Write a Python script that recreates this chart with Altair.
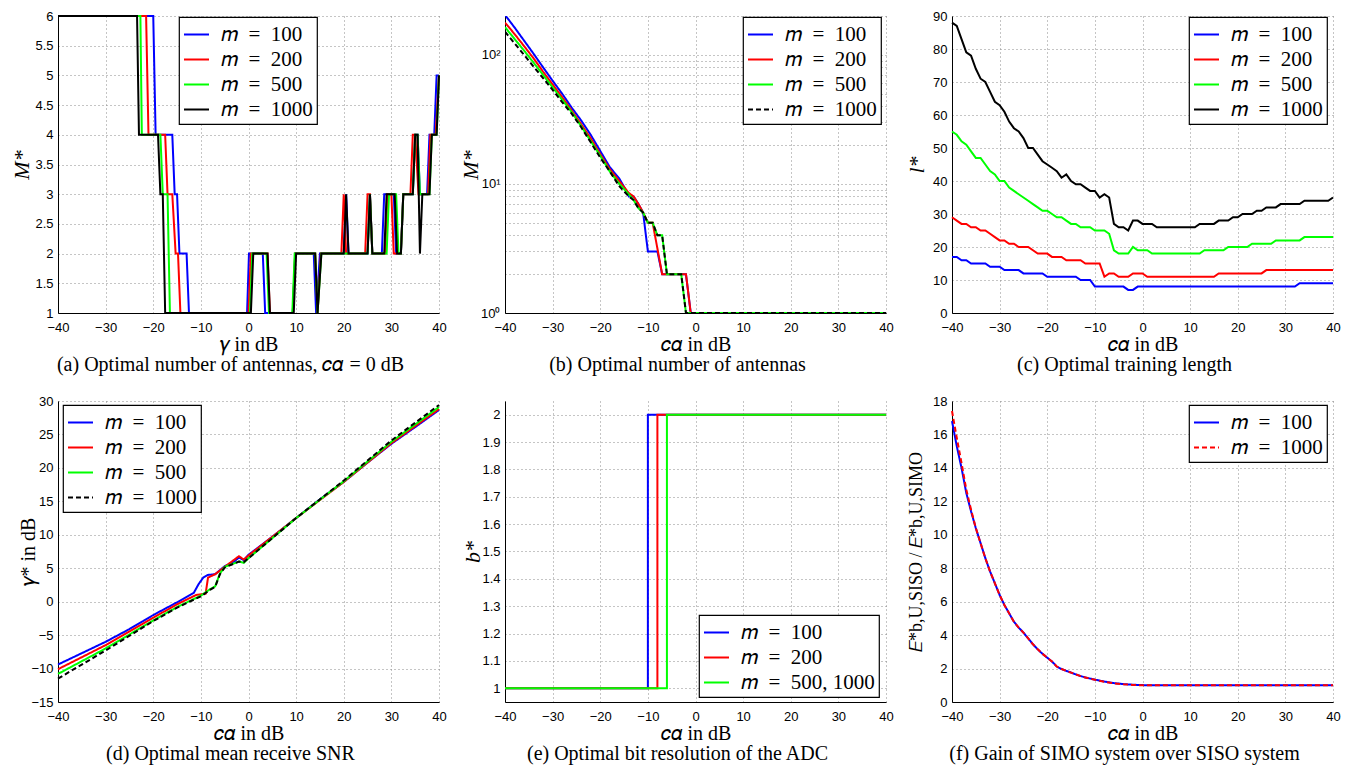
import altair as alt
import pandas as pd

SERIF = "Liberation Serif"
SANS = "Liberation Sans"
BLUE, RED, GREEN, BLACK = "#0000ff", "#ff0000", "#00ff00", "#000000"

L100 = "𝑚\u2002=\u2002100"
L200 = "𝑚\u2002=\u2002200"
L500 = "𝑚\u2002=\u2002500"
L1000 = "𝑚\u2002=\u20021000"
L5001000 = "𝑚\u2002=\u2002500, 1000"

X_TICKS = [-40, -30, -20, -10, 0, 10, 20, 30, 40]

# ---------------- (a) optimal number of antennas vs gamma ----------------
A_X_100 = [-40, -20, -19.5, -16, -15.5, -15, -14.5, -13, -12.5, -0.3, 0.1, 3, 3.5, 9.3, 9.8, 13.7, 14.2, 15, 20, 20.5, 21, 25, 25.5, 26, 28, 28.5, 30.5, 31, 32, 32.5, 34.5, 35, 35.5, 36, 37.5, 38, 39, 39.5, 40]
A_Y_100 = [6, 6, 4, 4, 3, 3, 2, 2, 1, 1, 2, 2, 1, 1, 2, 2, 1, 2, 2, 3, 2, 2, 3, 2, 2, 3, 3, 2, 2, 3, 3, 4, 4, 3, 3, 4, 4, 5, 5]
A_X_200 = [-40, -21.5, -21, -17.5, -17, -16, -15.3, -14.8, -14.3, 0, 0.5, 4, 4.5, 9.3, 9.8, 14, 14.5, 15.2, 19.5, 20, 20.5, 24.5, 25, 25.5, 26, 28.7, 29.2, 30, 30.5, 32, 32.5, 34, 34.5, 35, 35.7, 37.7, 38.2, 39.3, 40]
A_Y_200 = [6, 6, 4, 4, 3, 3, 2, 2, 1, 1, 2, 2, 1, 1, 2, 2, 1, 2, 2, 3, 2, 2, 3, 3, 2, 2, 3, 3, 2, 2, 3, 3, 4, 4, 3, 3, 4, 4, 5]
A_X_500 = [-40, -22.7, -22.4, -18.5, -18, -17, -16.5, 0.3, 0.8, 3.8, 4.3, 9.2, 9.7, 14, 14.5, 15.3, 25, 25.5, 26, 29, 29.5, 31, 31.5, 32, 32.5, 34.5, 35, 35.5, 36, 38, 38.5, 39.5, 40]
A_Y_500 = [6, 6, 4, 4, 3, 3, 1, 1, 2, 2, 1, 1, 2, 2, 1, 2, 2, 3, 2, 2, 3, 3, 2, 2, 3, 3, 4, 4, 3, 3, 4, 4, 5]
A_X_1000 = [-40, -23.4, -23, -19, -18.5, -18, -17.5, 0.5, 1, 4, 4.5, 9.5, 10, 14, 14.5, 15.3, 20, 20.5, 21, 25, 25.5, 26, 28.5, 29, 30.7, 31.2, 32, 32.5, 34.5, 35, 35.5, 36, 36.5, 38, 38.5, 39.5, 40]
A_Y_1000 = [6, 6, 4, 4, 3, 3, 1, 1, 2, 2, 1, 1, 2, 2, 1, 2, 2, 3, 2, 2, 3, 2, 2, 3, 3, 2, 2, 3, 3, 4, 4, 2, 3, 3, 4, 4, 5]

# ---------------- (b) optimal number of antennas vs c*alpha (log) ----------------
B_X_100 = [-40, -38, -36, -34, -32, -30, -28, -26, -24, -22, -20, -18, -16, -15, -14, -13, -12, -11, -10, -8, -7, -2, -1, 40]
B_Y_100 = [204, 163, 129, 102, 80, 63, 50, 39, 31, 24, 18, 13.5, 11, 9.5, 8, 8, 7, 6, 3, 3, 2, 2, 1, 1]
B_X_200 = [-40, -38, -36, -34, -32, -30, -28, -26, -24, -22, -20, -18, -16, -14, -13, -12, -11, -10, -9, -7, -2, -1, 40]
B_Y_200 = [178, 145, 117, 94, 74, 59, 47, 37, 29, 22.5, 17, 13, 10.5, 8.5, 8, 7, 6, 5, 5, 2, 2, 1, 1]
B_X_500 = [-40, -38, -36, -34, -32, -30, -28, -26, -24, -22, -20, -18, -16, -14, -13, -12, -11, -10, -9, -8, -7, -6, -3, -2, 40]
B_Y_500 = [164, 133, 108, 87, 70, 56, 45, 36, 28, 21.5, 16.5, 12.5, 10, 8.3, 7.5, 6.5, 6, 5, 5, 4, 4, 2, 2, 1, 1]
B_X_1000 = [-40, -38, -36, -34, -32, -30, -28, -26, -24, -22, -20, -18, -16, -14, -13, -12, -11, -10, -9, -8, -7, -6, -3, -2, 40]
B_Y_1000 = [151, 123, 100, 81, 66, 53.5, 43, 35, 27.5, 21, 16, 12.5, 9.6, 8, 7.5, 6.5, 6, 5, 5, 4, 4, 2, 2, 1, 1]

# ---------------- (c) optimal training length ----------------
C_X = list(range(-40, 41))
C_Y_100 = [17, 17, 16, 16, 15, 15, 15, 15, 14, 14,
           14, 13, 13, 13, 13, 12, 12, 12, 12, 12,
           11, 11, 11, 11, 11, 11, 11, 10, 10, 10,
           8, 8, 8, 8, 8, 8, 8, 7, 7, 8,
           8, 8, 8, 8, 8, 8, 8, 8, 8, 8,
           8, 8, 8, 8, 8, 8, 8, 8, 8, 8,
           8, 8, 8, 8, 8, 8, 8, 8, 8, 8,
           8, 8, 8, 9, 9, 9, 9, 9, 9, 9,
           9]
C_Y_200 = [29, 28, 27, 27, 26, 26, 25, 25, 24, 23,
           22, 22, 21, 21, 20, 20, 20, 19, 18, 18,
           18, 17, 17, 17, 16, 16, 16, 16, 15, 15,
           15, 15, 11, 12, 12, 11, 11, 11, 12, 12,
           12, 11, 11, 11, 11, 11, 11, 11, 11, 11,
           11, 11, 11, 11, 11, 11, 12, 12, 12, 12,
           12, 12, 12, 12, 12, 12, 13, 13, 13, 13,
           13, 13, 13, 13, 13, 13, 13, 13, 13, 13,
           13]
C_Y_500 = [55, 54, 52, 51, 49, 47, 47, 45, 43, 42,
           40, 40, 38, 37, 36, 35, 34, 33, 32, 31,
           31, 30, 29, 29, 28, 27, 27, 26, 26, 26,
           25, 25, 25, 24, 19, 18, 18, 18, 20, 19,
           19, 19, 18, 18, 18, 18, 18, 18, 18, 18,
           18, 18, 18, 19, 19, 19, 19, 19, 20, 20,
           20, 20, 20, 21, 21, 21, 21, 21, 22, 22,
           22, 22, 22, 22, 23, 23, 23, 23, 23, 23,
           23]
C_Y_1000 = [88, 87, 83, 79, 78, 74, 71, 70, 67, 64,
            63, 61, 58, 56, 55, 53, 50, 50, 48, 46,
            45, 44, 43, 41, 42, 40, 39, 39, 38, 37,
            37, 35, 36, 35, 27, 26, 26, 25, 28, 28,
            27, 27, 27, 26, 26, 26, 26, 26, 26, 26,
            26, 26, 27, 27, 27, 27, 28, 28, 28, 29,
            29, 30, 30, 30, 31, 31, 32, 32, 32, 33,
            33, 33, 33, 33, 34, 34, 34, 34, 34, 34,
            35]

# ---------------- (d) optimal mean receive SNR ----------------
D_X_100 = [-40, -35, -30, -25, -20, -15, -11.5, -10.5, -9.5, -8.5, -7, -5, -3, -2, -1, 0, 5, 10, 15, 20, 25, 30, 35, 40]
D_Y_100 = [-9.4, -7.7, -6.0, -4.1, -2.0, -0.1, 1.3, 2.6, 3.6, 4.0, 4.1, 5.3, 6.0, 6.6, 6.2, 7.0, 9.7, 12.5, 15.3, 17.9, 20.8, 23.6, 26.1, 28.65]
D_X_200 = [-40, -30, -20, -15, -11, -9, -8.5, -7, -5, -2, -1, 0, 10, 20, 30, 40]
D_Y_200 = [-10.1, -6.5, -2.4, -0.4, 1.0, 1.2, 3.6, 4.1, 5.2, 6.8, 6.3, 6.9, 12.5, 17.9, 23.7, 28.8]
D_X_500 = [-40, -30, -20, -15, -10, -8, -7, -6, -5, -2, -1, 0, 10, 20, 30, 40]
D_Y_500 = [-10.8, -7.0, -2.8, -0.8, 0.9, 1.9, 2.3, 4.2, 5.2, 6.0, 5.8, 6.5, 12.5, 18.0, 23.9, 29.1]
D_X_1000 = [-40, -30, -20, -15, -10, -8, -7, -6, -5, -2, -1, 0, 10, 20, 30, 40]
D_Y_1000 = [-11.5, -7.3, -2.9, -0.9, 0.8, 1.8, 2.2, 4.1, 5.1, 6.0, 5.9, 6.5, 12.5, 18.1, 24.1, 29.4]

# ---------------- (e) optimal bit resolution ----------------
E_X_100 = [-40, -10, -10, 40]
E_Y_100 = [1, 1, 2, 2]
E_X_200 = [-40, -8, -8, 40]
E_Y_200 = [1, 1, 2, 2]
E_X_500 = [-40, -6, -6, 40]
E_Y_500 = [1, 1, 2, 2]

# ---------------- (f) gain of SIMO over SISO ----------------
F_X = [-40, -39, -38, -37, -36, -35, -34, -33, -32, -31, -30, -29, -28, -27, -26, -25,
       -24, -23, -22, -21, -20, -19, -18, -17, -16, -15, -14, -13, -12, -11, -10,
       -8, -6, -4, -2, 0, 2, 40]
F_Y_100 = [16.8, 15.3, 14.0, 12.5, 11.4, 10.4, 9.5, 8.6, 7.8, 7.1, 6.4, 5.8, 5.3, 4.8, 4.45, 4.15,
           3.8, 3.45, 3.15, 2.88, 2.65, 2.42, 2.12, 1.97, 1.86, 1.76, 1.65, 1.55, 1.47, 1.4, 1.34,
           1.22, 1.13, 1.07, 1.03, 1.01, 1.0, 1.0]
F_Y_1000 = [17.4, 15.8, 14.3, 12.7, 11.5, 10.4, 9.5, 8.6, 7.8, 7.1, 6.4, 5.8, 5.3, 4.8, 4.45, 4.15,
            3.8, 3.45, 3.15, 2.88, 2.65, 2.42, 2.12, 1.97, 1.86, 1.76, 1.65, 1.55, 1.47, 1.4, 1.33,
            1.21, 1.12, 1.06, 1.02, 1.0, 1.0, 1.0]

W = 381
H_TOP, H_BOT = 297, 301


def build_df(names, xs_list, ys_list):
    rows = []
    for name, xs, ys in zip(names, xs_list, ys_list):
        for i, (x, y) in enumerate(zip(xs, ys)):
            rows.append({"x": x, "y": y, "s": name, "i": i})
    return pd.DataFrame(rows)


def panel(names, xs_list, ys_list, colors, y_scale, y_values, y_title, y_title_x,
          x_title, caption, leg_x, leg_y, h, dashes=None, y_format=".6~g",
          y_label_expr=None, y_title_size=20, clip=False, y_title_italic=False):
    df = build_df(names, xs_list, ys_list)
    leg = alt.Legend(orient="none", legendX=leg_x, legendY=leg_y)
    y_axis_kw = dict(values=y_values, title=y_title, titleAngle=270, titleX=y_title_x,
                     titleY=h / 2, titleAlign="center", titleBaseline="middle",
                     titleFontSize=y_title_size, labelFlush=False, labelPadding=5)
    if y_title_italic:
        y_axis_kw["titleFontStyle"] = "italic"
    if y_label_expr:
        y_axis_kw["labelExpr"] = y_label_expr
    else:
        y_axis_kw["format"] = y_format
    enc = dict(
        x=alt.X("x:Q", scale=alt.Scale(domain=[-40, 40], nice=False, zero=False),
                axis=alt.Axis(values=X_TICKS, title=x_title, titleX=W / 2, titleY=31,
                              titleAlign="center", titleBaseline="middle", labelFlush=False,
                              labelPadding=8)),
        y=alt.Y("y:Q", scale=y_scale, axis=alt.Axis(**y_axis_kw)),
        color=alt.Color("s:N", scale=alt.Scale(domain=names, range=colors), legend=leg, title=None),
        order=alt.Order("i:Q"),
    )
    if dashes:
        enc["strokeDash"] = alt.StrokeDash("s:N", scale=alt.Scale(domain=names, range=dashes),
                                           legend=leg, title=None)
    layers = [
        alt.Chart(df).transform_filter(alt.datum.s == n)
        .mark_line(strokeWidth=2, clip=clip).encode(**enc)
        for n in names
    ]
    return alt.layer(*layers).properties(
        width=W, height=h,
        title=alt.TitleParams(caption, orient="bottom", anchor="middle", dx=-18, offset=1,
                              baseline="top", font=SERIF, fontSize=20,
                              fontWeight="normal", color="black"),
    )


N4 = [L100, L200, L500, L1000]
C4 = [BLUE, RED, GREEN, BLACK]
DASH4 = [[1, 0], [1, 0], [1, 0], [5, 3]]

pa = panel(N4, [A_X_100, A_X_200, A_X_500, A_X_1000], [A_Y_100, A_Y_200, A_Y_500, A_Y_1000], C4,
           alt.Scale(domain=[1, 6], nice=False, zero=False),
           [1, 1.5, 2, 2.5, 3, 3.5, 4, 4.5, 5, 5.5, 6], "M*", -37,
           "𝛾 in dB", "(a) Optimal number of antennas, 𝑐𝛼 = 0 dB", 121, 1, H_TOP,
           y_title_size=22, y_title_italic=True)

LOG_VALUES = [1, 2, 3, 4, 5, 6, 7, 8, 9, 10, 20, 30, 40, 50, 60, 70, 80, 90, 100, 200]
pb = panel(N4, [B_X_100, B_X_200, B_X_500, B_X_1000], [B_Y_100, B_Y_200, B_Y_500, B_Y_1000], C4,
           alt.Scale(type="log", domain=[1, 200], nice=False),
           LOG_VALUES, "M*", -35,
           "𝑐𝛼 in dB", "(b) Optimal number of antennas", 238, 1, H_TOP, dashes=DASH4,
           y_label_expr="datum.value == 1 ? '10⁰' : datum.value == 10 ? '10¹' : datum.value == 100 ? '10²' : ''",
           clip=True, y_title_size=22, y_title_italic=True)

pc = panel(N4, [C_X, C_X, C_X, C_X], [C_Y_100, C_Y_200, C_Y_500, C_Y_1000], C4,
           alt.Scale(domain=[0, 90], nice=False, zero=False),
           [0, 10, 20, 30, 40, 50, 60, 70, 80, 90], "l*", -36,
           "𝑐𝛼 in dB", "(c) Optimal training length", 237, 1, H_TOP,
           y_title_size=22, y_title_italic=True)

pd_ = panel(N4, [D_X_100, D_X_200, D_X_500, D_X_1000], [D_Y_100, D_Y_200, D_Y_500, D_Y_1000], C4,
            alt.Scale(domain=[-15, 30], nice=False, zero=False),
            [-15, -10, -5, 0, 5, 10, 15, 20, 25, 30], "𝛾* in dB", -30,
            "𝑐𝛼 in dB", "(d) Optimal mean receive SNR", 5, 4, H_BOT, dashes=DASH4)

pe = panel([L100, L200, L5001000], [E_X_100, E_X_200, E_X_500], [E_Y_100, E_Y_200, E_Y_500],
           [BLUE, RED, GREEN],
           alt.Scale(domain=[0.95, 2.05], nice=False, zero=False),
           [1, 1.1, 1.2, 1.3, 1.4, 1.5, 1.6, 1.7, 1.8, 1.9, 2], "b*", -33,
           "𝑐𝛼 in dB", "(e) Optimal bit resolution of the ADC", 194, 214, H_BOT,
           y_title_size=22, y_title_italic=True)

pf = panel([L100, L1000], [F_X, F_X], [F_Y_100, F_Y_1000], [BLUE, RED],
           alt.Scale(domain=[0, 18], nice=False, zero=False),
           [0, 2, 4, 6, 8, 10, 12, 14, 16, 18], "𝐸*b,U,SISO / 𝐸*b,U,SIMO", -36,
           "𝑐𝛼 in dB", "(f) Gain of SIMO system over SISO system", 237, 4, H_BOT,
           dashes=[[1, 0], [5, 3]], y_title_size=18)

chart = (
    alt.concat(pa, pb, pc, pd_, pe, pf, columns=3, spacing={"row": 88, "column": 66}, bounds="flush")
    .resolve_scale(color="independent", strokeDash="independent")
    .resolve_legend(color="independent", strokeDash="independent")
    .properties(padding={"left": 1, "top": 1, "right": 5, "bottom": 5}, background="white")
    .configure_axis(domainColor="black", domainWidth=1, gridColor="#8a8a8a", gridDash=[1, 3],
                    gridWidth=1, gridOpacity=1, labelFont=SANS, labelFontSize=13,
                    labelColor="black", ticks=False, titleFont=SERIF,
                    titleFontSize=20, titleFontWeight="normal", titleColor="black")
    .configure_legend(strokeColor="black", strokeWidth=1.2, fillColor="white", padding=4,
                      symbolType="stroke", symbolStrokeWidth=2, symbolSize=625,
                      labelFont=SERIF, labelFontSize=21, labelOffset=11, rowPadding=1,
                      labelColor="black")
    .configure_view(stroke="transparent")
)

chart.save("out.html", embed_options={"renderer": "svg", "actions": False})
